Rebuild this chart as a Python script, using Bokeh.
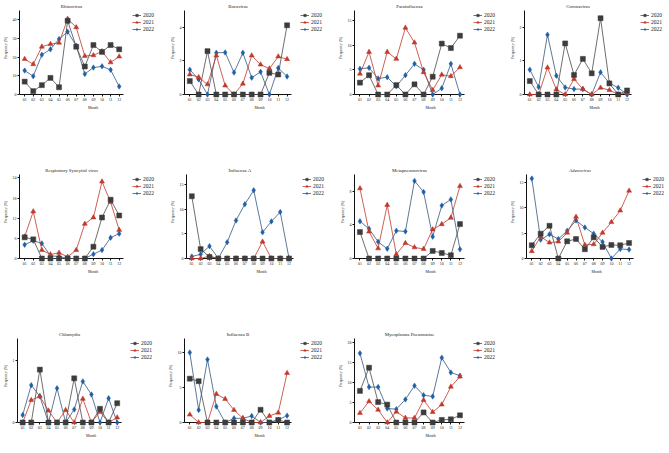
from bokeh.plotting import figure
from bokeh.layouts import column, row
from bokeh.models import FixedTicker, Legend, LegendItem, Range1d, Label
from bokeh.embed import file_html
from bokeh.resources import INLINE

months = [1, 2, 3, 4, 5, 6, 7, 8, 9, 10, 11, 12]
month_labels = ["01", "02", "03", "04", "05", "06", "07", "08", "09", "10", "11", "12"]
years = ["2020", "2021", "2022"]

rhino_2020 = [6.9, 1.8, 5.0, 8.9, 3.9, 39.5, 25.6, 15.0, 26.5, 22.8, 26.5, 24.2]
rhino_2021 = [19.0, 16.2, 25.6, 27.0, 27.7, 40.5, 36.0, 20.6, 21.0, 23.1, 17.2, 20.3]
rhino_2022 = [12.8, 9.8, 21.3, 24.2, 29.7, 33.6, 26.1, 11.0, 14.4, 15.1, 13.2, 4.3]

boca_2020 = [0.8, 0, 2.58, 0, 0, 0, 0, 0, 0, 1.29, 1.19, 4.12]
boca_2021 = [1.19, 1.03, 0.6, 2.32, 0.53, 0, 0.64, 2.32, 1.78, 1.54, 2.26, 2.1]
boca_2022 = [1.48, 0.9, 0, 2.48, 2.5, 1.31, 2.48, 1.0, 1.35, 0, 1.58, 1.07]

para_2020 = [2.4, 3.9, 0, 0, 1.9, 0, 2.06, 0, 3.6, 10.3, 9.4, 11.9]
para_2021 = [4.2, 8.6, 1.8, 8.6, 7.2, 13.5, 10.5, 4.5, 0.9, 4.0, 3.7, 5.5]
para_2022 = [5.2, 5.4, 3.25, 3.5, 1.66, 3.9, 6.2, 5.0, 0, 1.26, 6.2, 0]

corona_2020 = [0.4, 0, 0, 0, 1.52, 0.58, 1.06, 0.63, 2.27, 0.33, 0, 0.12]
corona_2021 = [0, 0, 0.8, 0.15, 0, 0.46, 0.16, 0, 0.2, 0.13, 0, 0.05]
corona_2022 = [0.74, 0.22, 1.78, 0.56, 0.21, 0.16, 0.16, 0, 0.66, 0.34, 0.2, 0]

rsv_2020 = [6.3, 5.7, 0, 0, 0, 0, 0, 0, 3.5, 12.2, 17.5, 12.8]
rsv_2021 = [6.5, 14.0, 2.5, 1.2, 1.7, 0.5, 2.5, 10.3, 12.2, 22.9, 16.8, 8.5]
rsv_2022 = [4.1, 5.3, 4.5, 0.8, 0.6, 0, 0, 0, 1.3, 2.5, 6.2, 7.4]

flua_2020 = [12.6, 1.9, 0.3, 0, 0, 0, 0, 0, 0, 0, 0, 0]
flua_2021 = [0, 0, 0.5, 0, 0, 0, 0, 0, 3.4, 0, 0, 0]
flua_2022 = [0.4, 0.85, 2.5, 0, 3.3, 7.7, 11.0, 13.8, 5.3, 7.5, 9.4, 0]

mpv_2020 = [3.15, 0, 0, 0, 0, 0, 0, 0, 0.9, 0.66, 0.39, 4.1]
mpv_2021 = [8.35, 3.2, 1.2, 6.37, 0.5, 1.83, 1.32, 1.13, 3.46, 4.08, 4.85, 8.62]
mpv_2022 = [4.43, 3.53, 1.98, 1.16, 3.3, 3.22, 9.24, 7.92, 2.6, 6.3, 7.03, 1.09]

adeno_2020 = [2.6, 4.87, 6.43, 0, 3.38, 3.83, 1.82, 4.16, 2.27, 2.66, 2.6, 3.05]
adeno_2021 = [1.43, 4.29, 3.12, 3.31, 5.06, 8.18, 2.66, 2.79, 5.06, 7.14, 9.42, 13.3]
adeno_2022 = [15.7, 3.7, 4.74, 3.83, 5.45, 7.47, 6.1, 4.87, 3.25, 0, 1.88, 1.75]

chlam_2020 = [0, 0, 0.85, 0, 0, 0, 0.71, 0, 0, 0.22, 0, 0.31]
chlam_2021 = [0, 0.36, 0.42, 0.19, 0, 0.2, 0, 0.38, 0, 0.17, 0, 0.08]
chlam_2022 = [0.12, 0.6, 0.42, 0, 0.55, 0, 0.21, 0.66, 0.45, 0, 0.39, 0]

flub_2020 = [6.26, 5.9, 0, 0, 0, 0, 0, 0, 1.82, 0, 0.37, 0]
flub_2021 = [1.12, 0, 0, 4.07, 3.36, 1.78, 0.6, 0, 0, 0.93, 1.4, 7.06]
flub_2022 = [10.0, 1.78, 9.0, 2.29, 0, 0.6, 0.6, 0.93, 0, 0, 0.37, 0.98]

myco_2020 = [7.9, 13.7, 5.1, 4.47, 0, 0, 0, 2.52, 0, 0.65, 0.8, 1.8]
myco_2021 = [2.36, 5.28, 3.17, 0, 2.68, 1.14, 1.14, 5.6, 2.6, 4.47, 8.94, 11.46]
myco_2022 = [17.3, 8.86, 8.86, 3.5, 3.33, 5.77, 9.19, 6.83, 6.5, 16.2, 12.5, 11.7]

titles = ["Rhinovirus", "Bocavirus", "Parainfluenza", "Coronavirus",
          "Respiratory Syncytial virus", "Influenza A", "Metapneumovirus", "Adenovirus",
          "Chlamydia", "Influenza B", "Mycoplasma Pneumoniae"]
series = [
    (rhino_2020, rhino_2021, rhino_2022),
    (boca_2020, boca_2021, boca_2022),
    (para_2020, para_2021, para_2022),
    (corona_2020, corona_2021, corona_2022),
    (rsv_2020, rsv_2021, rsv_2022),
    (flua_2020, flua_2021, flua_2022),
    (mpv_2020, mpv_2021, mpv_2022),
    (adeno_2020, adeno_2021, adeno_2022),
    (chlam_2020, chlam_2021, chlam_2022),
    (flub_2020, flub_2021, flub_2022),
    (myco_2020, myco_2021, myco_2022),
]
y_ticks = [[0, 10, 20, 30, 40], [0, 2, 4], [0, 5, 10, 15], [0, 1, 2],
           [0, 6, 12, 18, 24], [0, 5, 10, 15], [0, 4, 8], [0, 5, 10, 15],
           [0, 1], [0, 5, 10], [0, 5, 10, 15, 20]]
y_max = [45, 5, 17, 2.5, 25, 17, 10, 16.5, 1.35, 12, 21]

FONT = "Liberation Serif"
marker_colors = ["#3c3c3c", "#c0392b", "#1f5fa6"]
line_colors = ["#4a4a4a", "#c0392b", "#33587f"]
markers = ["square", "triangle", "diamond"]
marker_sizes = [5, 5, 5.5]

X0, X1 = 0.4, 12.5
col_widths = [163, 166, 168, 156]
plot_widths = [104, 107, 110, 107]
LEFT = 15
RIGHT = 1
TOP = 1
FH = 84      # height of the plotting area (0 .. y_max)
TH = 9       # room above it for the title


def make_panel(i, col, last_row):
    pw = plot_widths[col]
    fw = col_widths[col] - LEFT - RIGHT
    fh = FH + TH
    bottom = 15 if last_row else 70
    x_end = X0 + (X1 - X0) * fw / pw
    y_end = y_max[i] * fh / FH
    p = figure(frame_width=fw, frame_height=fh, output_backend="svg", toolbar_location=None,
               x_range=Range1d(X0, x_end), y_range=Range1d(0, y_end),
               min_border_left=LEFT, min_border_right=RIGHT, min_border_top=TOP,
               min_border_bottom=bottom)
    p.outline_line_color = None
    p.xgrid.visible = False
    p.ygrid.visible = False

    p.add_layout(Label(x=(X0 + X1) / 2, y=FH + 4.5, y_units="screen", text=titles[i],
                       text_align="center", text_baseline="middle",
                       text_font=FONT, text_font_size="4.8px",
                       text_font_style="italic" if titles[i] == "Adenovirus" else "normal",
                       text_color="#222222"))

    p.xaxis.ticker = FixedTicker(ticks=months)
    p.xaxis.major_label_overrides = {m: l for m, l in zip(months, month_labels)}
    p.xaxis.bounds = (X0, X1)
    p.yaxis.ticker = FixedTicker(ticks=y_ticks[i])
    p.yaxis.bounds = (0, y_max[i])
    p.xaxis.axis_label = "Month"
    p.yaxis.axis_label = "Frequency (%)"
    for ax in (p.xaxis, p.yaxis):
        ax.axis_line_color = "#111111"
        ax.axis_line_width = 1
        ax.major_tick_line_color = "#111111"
        ax.major_tick_out = 2
        ax.major_tick_in = 0
        ax.minor_tick_line_color = None
        ax.major_label_text_font = FONT
        ax.major_label_text_font_size = "4px"
        ax.major_label_text_color = "#222222"
        ax.major_label_standoff = 1
        ax.axis_label_text_font = FONT
        ax.axis_label_text_font_size = "3.8px"
        ax.axis_label_text_font_style = "normal"
        ax.axis_label_text_color = "#222222"
        ax.axis_label_standoff = 2

    rends = {}
    for k in (2, 1, 0):
        vals = series[i][k]
        lr = p.line(months, vals, line_color=line_colors[k], line_width=0.8, level="overlay")
        sr = p.scatter(months, vals, marker=markers[k], size=marker_sizes[k],
                       fill_color=marker_colors[k], line_color=marker_colors[k],
                       line_width=0.5, level="overlay")
        rends[k] = [lr, sr]
    items = [LegendItem(label=years[k], renderers=rends[k]) for k in range(3)]
    legend = Legend(items=items, location=(pw + 9, FH - 22), orientation="vertical",
                    glyph_width=9, glyph_height=6, label_height=6, label_width=10,
                    label_standoff=2, spacing=1, padding=0, margin=0,
                    border_line_alpha=0, background_fill_alpha=0,
                    label_text_font=FONT, label_text_font_size="5.5px",
                    label_text_color="#222222")
    p.add_layout(legend, "center")
    return p


rows = []
idx = 0
for r, n in enumerate([4, 4, 3]):
    figs = []
    for c in range(n):
        figs.append(make_panel(idx, c, r == 2))
        idx += 1
    rows.append(row(*figs))

layout = column(*rows)
open("out.html", "w").write(file_html(layout, INLINE))
